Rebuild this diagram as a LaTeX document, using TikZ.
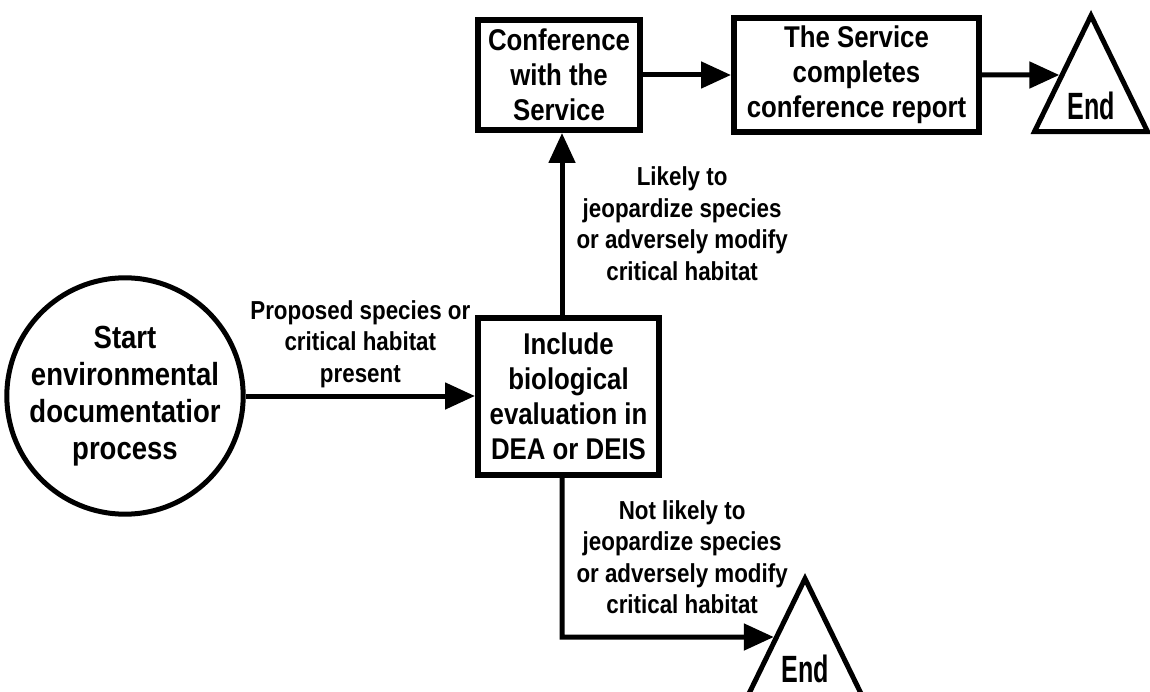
\documentclass[tikz,border=0pt]{standalone}
\usepackage{fontspec}
\setmainfont{Liberation Sans}[FakeStretch=0.86]
\newfontfamily\tallfont{Liberation Sans}[FakeStretch=0.66]
\usetikzlibrary{shapes.geometric, arrows.meta}
\newcommand{\boxfont}{\fontsize{30}{35}\selectfont\bfseries}
\newcommand{\circfont}{\fontsize{32}{37}\selectfont\bfseries}
\newcommand{\lblfont}{\fontsize{26}{31.5}\selectfont\bfseries}
\newcommand{\finfont}{\tallfont\fontsize{38}{40}\selectfont\bfseries}

\begin{document}
\begin{tikzpicture}[x=1pt, y=-1pt]
    \tikzstyle{proc} = [rectangle, draw, line width=6pt, align=center, font=\boxfont, inner sep=0pt]
    \tikzstyle{startnode} = [circle, draw, line width=5pt, align=center, font=\circfont, inner sep=0pt, minimum size=232pt]
    \tikzstyle{finish} = [isosceles triangle, isosceles triangle apex angle=52, shape border rotate=90, draw, line width=5pt, font=\finfont, inner sep=2pt, minimum width=113pt, minimum height=111pt]
    \tikzstyle{lbl} = [align=center, font=\lblfont, inner sep=2pt]
    \tikzstyle{flow} = [line width=5pt, -{Triangle[length=30pt, width=26pt]}]

    \useasboundingbox (0,0) rectangle (1150,692);

    % Start of the process (left, circle)
    \node[startnode] (start) at (125,396) {Start\\environmental\\documentatior\\process};

    % Process boxes
    \node[proc, minimum width=181pt, minimum height=157pt] (inc) at (568.5,396) {Include\\biological\\evaluation in\\DEA or DEIS};
    \node[proc, minimum width=162pt, minimum height=110pt] (conf) at (559,75) {Conference\\with the\\Service};
    \node[proc, minimum width=245pt, minimum height=114pt] (srv) at (856.5,75) {The Service\\completes\\conference report};

    % End nodes (triangles)
    \node[finish, anchor=apex] (endA) at (1091,10) {End};
    \node[finish, anchor=apex] (endB) at (805,573) {End};

    % Helper points
    \coordinate (turn) at (562,637);
    \coordinate (tA) at (srv.east -| endA.apex);
    \coordinate (tB) at (turn -| endB.apex);

    \draw[flow] (start) -- node[lbl, above=4pt] {Proposed species or\\critical habitat\\present} (inc);
    \draw[flow] (inc.north -| turn) -- node[lbl, right=10pt] {Likely to\\jeopardize species\\or adversely modify\\critical habitat} (conf.south -| turn);
    \draw[flow] (conf.east) -- (conf.east -| srv.west);
    \draw[flow] (srv.east) -- (intersection of srv.east--tA and endA.apex--endA.left corner);
    \draw[flow] (inc.south -| turn) -- node[lbl, right=10pt] {Not likely to\\jeopardize species\\or adversely modify\\critical habitat} (turn) -- (intersection of turn--tB and endB.apex--endB.left corner);
\end{tikzpicture}
\end{document}
